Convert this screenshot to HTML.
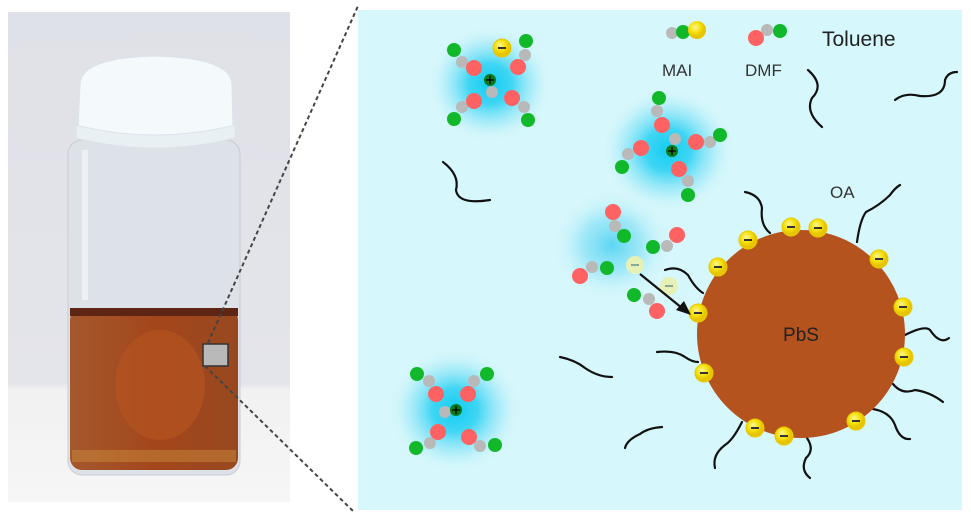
<!DOCTYPE html>
<html><head><meta charset="utf-8"><style>
html,body{margin:0;padding:0;background:#fff;}
svg{display:block;}
text{font-family:"Liberation Sans",sans-serif;}
</style></head><body>
<svg width="971" height="519" viewBox="0 0 971 519" xmlns="http://www.w3.org/2000/svg">
<defs>
<radialGradient id="glow"><stop offset="0" stop-color="#10cdf2"/><stop offset="0.35" stop-color="#2fd2f3" stop-opacity="0.9"/><stop offset="0.7" stop-color="#8ae4f7" stop-opacity="0.5"/><stop offset="1" stop-color="#d6f7fb" stop-opacity="0"/></radialGradient>
<radialGradient id="glow2"><stop offset="0" stop-color="#5cd6f2"/><stop offset="0.5" stop-color="#8ae2f6" stop-opacity="0.7"/><stop offset="1" stop-color="#d6f7fb" stop-opacity="0"/></radialGradient>
<linearGradient id="bg" x1="0" y1="0" x2="0" y2="1"><stop offset="0" stop-color="#dfe1e8"/><stop offset="0.76" stop-color="#e4e5ea"/><stop offset="0.77" stop-color="#f1f1f1"/><stop offset="1" stop-color="#f6f6f6"/></linearGradient>
<linearGradient id="liq" x1="0" y1="0" x2="1" y2="0"><stop offset="0" stop-color="#a4582c"/><stop offset="0.5" stop-color="#a4461c"/><stop offset="1" stop-color="#98481f"/></linearGradient>
<radialGradient id="yel" cx="0.4" cy="0.35"><stop offset="0" stop-color="#fff59a"/><stop offset="0.6" stop-color="#f5e10a"/><stop offset="1" stop-color="#e8c400"/></radialGradient>
</defs>
<rect width="971" height="519" fill="#fff"/>
<rect x="8" y="12" width="282" height="490" fill="url(#bg)"/>
<rect x="68" y="140" width="172" height="335" rx="14" fill="#dde1e8" stroke="#c9ccd2"/>
<rect x="70" y="308" width="168" height="162" rx="12" fill="url(#liq)"/>
<rect x="70" y="308" width="168" height="8" fill="#5e2414"/>
<ellipse cx="160" cy="385" rx="45" ry="55" fill="#b8551f" opacity="0.6"/>
<rect x="72" y="450" width="164" height="12" fill="#c98a3c" opacity="0.5"/>
<rect x="82" y="150" width="6" height="150" fill="#fafafa" opacity="0.6"/>
<path d="M80,85 Q80,58 155,56 Q232,58 232,85 L233,130 Q155,145 78,130 Z" fill="#f4f9fc" stroke="#dbe4ea"/>
<path d="M76,125 Q155,145 235,125 L235,138 Q155,158 76,138 Z" fill="#e8f0f4" stroke="#dbe4ea"/>
<rect x="203" y="344" width="25" height="22" fill="#b9b9b9" stroke="#333" stroke-width="1.5"/>
<line x1="208" y1="343" x2="358" y2="6" stroke="#444" stroke-width="2" stroke-dasharray="4,3"/>
<line x1="205" y1="366" x2="354" y2="512" stroke="#444" stroke-width="2" stroke-dasharray="4,3"/>
<rect x="358" y="10" width="604" height="500" fill="#d6f7fb"/>
<ellipse cx="490" cy="84" rx="62" ry="58" fill="url(#glow)"/>
<ellipse cx="668" cy="150" rx="66" ry="62" fill="url(#glow)"/>
<ellipse cx="455" cy="410" rx="66" ry="62" fill="url(#glow)"/>
<ellipse cx="612" cy="245" rx="60" ry="55" fill="url(#glow2)"/>
<g fill="none" stroke="#111" stroke-width="2.2" stroke-linecap="round">
<path d="M443,162 Q460,175 456,190 Q458,205 490,200"/>
<path d="M808,70 Q825,85 812,98 Q805,112 822,127"/>
<path d="M895,100 Q905,92 920,96 Q945,98 945,80 Q948,72 957,72"/>
<path d="M560,357 Q575,360 585,368 Q598,377 612,377"/>
<path d="M662,427 Q648,428 640,434 Q627,440 625,448"/>
<path d="M745,192 Q760,195 762,208 Q760,225 770,233"/>
<path d="M857,242 Q860,220 866,212 Q880,205 890,195 Q895,188 900,185"/>
<path d="M905,335 Q925,325 930,330 Q940,345 949,338"/>
<path d="M893,384 Q902,395 915,390 Q930,392 943,402"/>
<path d="M873,409 Q890,412 895,425 Q900,440 910,439"/>
<path d="M807,438 Q815,450 806,458 Q800,470 810,478"/>
<path d="M742,422 Q733,440 725,445 Q712,455 715,468"/>
<path d="M657,352 Q675,350 685,357 Q692,362 698,362"/>
<path d="M665,270 Q678,265 688,275 Q695,288 703,293"/>
</g>
<circle cx="801" cy="334" r="104" fill="#b4531e"/>
<text x="801" y="341" font-size="19" text-anchor="middle" fill="#222">PbS</text>
<g fill="url(#yel)" stroke="#e8c800" stroke-width="1">
<circle cx="748" cy="240" r="9"/><circle cx="791" cy="227" r="9"/><circle cx="818" cy="228" r="9"/><circle cx="879" cy="259" r="9"/><circle cx="718" cy="267" r="9"/><circle cx="903" cy="307" r="9"/><circle cx="698" cy="313" r="9"/><circle cx="904" cy="357" r="9"/><circle cx="704" cy="373" r="9"/><circle cx="856" cy="421" r="9"/><circle cx="755" cy="428" r="9"/><circle cx="784" cy="436" r="9"/><circle cx="502" cy="48" r="9"/>
</g>
<g stroke="#333" stroke-width="2">
<path d="M744,240h8M787,227h8M814,228h8M875,259h8M714,267h8M899,307h8M694,313h8M900,357h8M700,373h8M852,421h8M751,428h8M780,436h8M498,48h8"/>
</g>
<circle cx="635" cy="265" r="9" fill="#e7f0b5"/><path d="M631,265h8" stroke="#8a9" stroke-width="2"/>
<circle cx="669" cy="286" r="9" fill="#e7f0b5"/><path d="M665,286h8" stroke="#8a9" stroke-width="2"/>
<path d="M640,274 L682,308" stroke="#111" stroke-width="2.2"/>
<path d="M691,315 L676,310 L684,301 Z" fill="#111"/>
<g fill="#b9b9b9">
<circle cx="462" cy="62" r="6"/><circle cx="525" cy="55" r="6"/><circle cx="462" cy="107" r="6"/><circle cx="524" cy="107" r="6"/><circle cx="492" cy="92" r="6"/>
<circle cx="657" cy="111" r="6"/><circle cx="675" cy="139" r="6"/><circle cx="710" cy="142" r="6"/><circle cx="628" cy="154" r="6"/><circle cx="688" cy="181" r="6"/>
<circle cx="429" cy="381" r="6"/><circle cx="474" cy="381" r="6"/><circle cx="445" cy="412" r="6"/><circle cx="430" cy="443" r="6"/><circle cx="480" cy="446" r="6"/>
<circle cx="615" cy="226" r="6"/><circle cx="667" cy="246" r="6"/><circle cx="592" cy="267" r="6"/><circle cx="649" cy="299" r="6"/>
<circle cx="672" cy="33" r="6"/><circle cx="767" cy="30" r="6"/>
</g>
<g fill="#ff6262">
<circle cx="474" cy="68" r="8"/><circle cx="518" cy="67" r="8"/><circle cx="474" cy="101" r="8"/><circle cx="512" cy="98" r="8"/>
<circle cx="662" cy="125" r="8"/><circle cx="696" cy="142" r="8"/><circle cx="641" cy="148" r="8"/><circle cx="679" cy="169" r="8"/>
<circle cx="436" cy="394" r="8"/><circle cx="468" cy="394" r="8"/><circle cx="438" cy="432" r="8"/><circle cx="469" cy="437" r="8"/>
<circle cx="613" cy="212" r="8"/><circle cx="677" cy="235" r="8"/><circle cx="580" cy="276" r="8"/><circle cx="657" cy="311" r="8"/>
<circle cx="756" cy="38" r="8"/>
</g>
<g fill="#11b82a">
<circle cx="454" cy="50" r="7"/><circle cx="526" cy="41" r="7"/><circle cx="454" cy="119" r="7"/><circle cx="528" cy="120" r="7"/>
<circle cx="659" cy="98" r="7"/><circle cx="720" cy="135" r="7"/><circle cx="622" cy="167" r="7"/><circle cx="688" cy="195" r="7"/>
<circle cx="417" cy="374" r="7"/><circle cx="487" cy="374" r="7"/><circle cx="416" cy="448" r="7"/><circle cx="495" cy="445" r="7"/>
<circle cx="624" cy="236" r="7"/><circle cx="653" cy="247" r="7"/><circle cx="607" cy="268" r="7"/><circle cx="634" cy="295" r="7"/>
<circle cx="683" cy="32" r="7"/><circle cx="780" cy="31" r="7"/>
</g>
<circle cx="697" cy="30" r="9" fill="url(#yel)"/>
<g fill="#0a7a1a"><circle cx="490" cy="80" r="6"/><circle cx="672" cy="151" r="6"/><circle cx="456" cy="410" r="6"/></g>
<g stroke="#000" stroke-width="1.3"><path d="M486,80h8M490,76v8M668,151h8M672,147v8M452,410h8M456,406v8"/></g>
<text x="662" y="76" font-size="17" fill="#333">MAI</text>
<text x="745" y="76" font-size="17" fill="#333">DMF</text>
<text x="822" y="46" font-size="21" fill="#222">Toluene</text>
<text x="830" y="198" font-size="17" fill="#333">OA</text>
</svg>
</body></html>
